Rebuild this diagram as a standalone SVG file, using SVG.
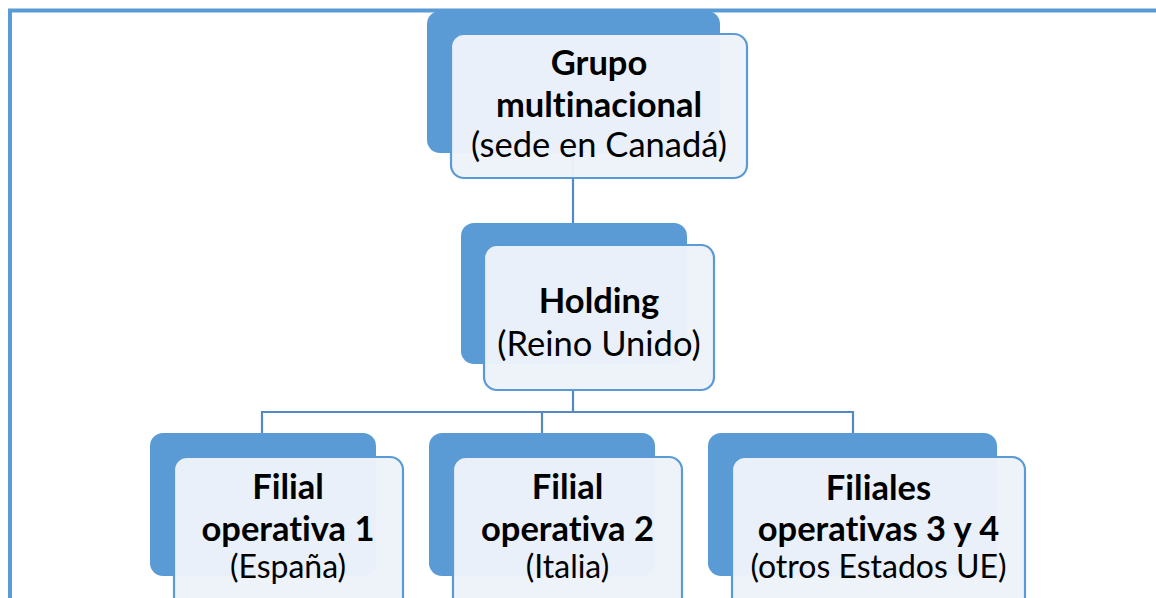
<svg xmlns="http://www.w3.org/2000/svg" width="1156" height="598" viewBox="0 0 1156 598">
<style>
.back{fill:#5B9BD5;}
.front{fill:#EDF3FA;fill-opacity:0.97;stroke:#5B9BD5;stroke-width:2.2;}
.conn{fill:none;stroke:#5489C4;stroke-width:2.2;}
.b{font-family:Lato,"Liberation Sans",sans-serif;font-weight:bold;font-size:34.5px;fill:#000;text-anchor:middle;font-variant-ligatures:none;}
.r{font-family:Lato,"Liberation Sans",sans-serif;font-size:34.5px;fill:#000;text-anchor:middle;font-variant-ligatures:none;}
.rs{font-family:Lato,"Liberation Sans",sans-serif;font-size:32px;fill:#000;text-anchor:middle;font-variant-ligatures:none;}
</style>
<rect x="0" y="0" width="1156" height="598" fill="#fff"/>
<rect x="10" y="10.5" width="1200" height="700" fill="none" stroke="#5B9BD5" stroke-width="4"/>
<g id="connectors">
<line class="conn" x1="573" y1="150" x2="573" y2="223"/>
<polyline class="conn" points="262,433 262,412 853,412 853,433"/>
<line class="conn" x1="542" y1="412" x2="542" y2="433"/>
<line class="conn" x1="573" y1="388" x2="573" y2="412"/>
</g>
<g id="node-grupo">
<rect class="back" x="427" y="11" width="293" height="142" rx="13"/>
<rect class="front" x="451" y="34" width="296" height="144" rx="13"/>
<text class="b" x="599" y="75">Grupo</text>
<text class="b" x="599" y="117">multinacional</text>
<text class="r" x="599" y="157">(sede en Canadá)</text>
</g>
<g id="node-holding">
<rect class="back" x="461" y="223" width="226" height="141" rx="13"/>
<rect class="front" x="484" y="245" width="230" height="145" rx="13"/>
<text class="b" x="599" y="313">Holding</text>
<text class="r" x="599" y="356">(Reino Unido)</text>
</g>
<g id="node-filial1">
<rect class="back" x="150" y="433" width="226" height="143" rx="13"/>
<rect class="front" x="174" y="457" width="229" height="160" rx="13"/>
<text class="b" x="288" y="499">Filial</text>
<text class="b" x="288" y="541">operativa 1</text>
<text class="rs" x="288" y="578">(España)</text>
</g>
<g id="node-filial2">
<rect class="back" x="429" y="433" width="226" height="143" rx="13"/>
<rect class="front" x="453" y="457" width="229" height="160" rx="13"/>
<text class="b" x="567.5" y="499">Filial</text>
<text class="b" x="567.5" y="541">operativa 2</text>
<text class="rs" x="567.5" y="578">(Italia)</text>
</g>
<g id="node-filiales34">
<rect class="back" x="708" y="433" width="289" height="143" rx="13"/>
<rect class="front" x="732" y="457" width="293" height="160" rx="13"/>
<text class="b" x="878.5" y="500">Filiales</text>
<text class="b" x="878.5" y="541">operativas 3 y 4</text>
<text class="rs" x="878.5" y="578">(otros Estados UE)</text>
</g>
</svg>
